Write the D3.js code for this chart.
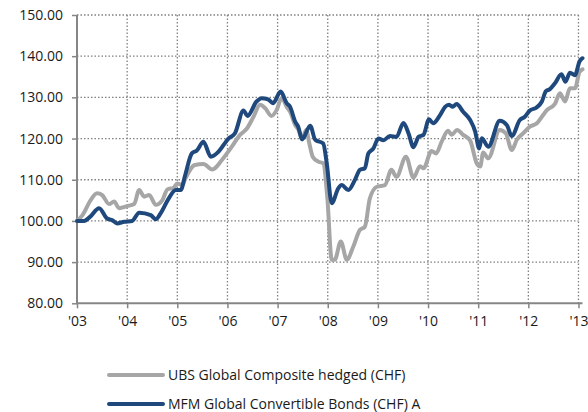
<!DOCTYPE html>
<html>
<head>
<meta charset="utf-8">
<script src="https://cdn.jsdelivr.net/npm/d3@7"></script>
<style>
  body { margin: 0; background: #fff; }
  svg text { font-family: "Open Sans", "Noto Sans", sans-serif; fill: #1a1a1a; }
</style>
</head>
<body>
<div id="chart"></div>
<script>
// --- data (decimal year, index value) ---
const ubsSeries = [
  [2003.00, 100.0], [2003.11, 101.4], [2003.27, 105.0], [2003.40, 106.7], [2003.50, 106.3],
  [2003.64, 104.1], [2003.74, 104.7], [2003.84, 103.1], [2004.00, 103.6], [2004.14, 104.1],
  [2004.24, 107.5], [2004.34, 105.9], [2004.44, 106.3], [2004.57, 103.9], [2004.70, 105.0],
  [2004.80, 107.6], [2004.93, 108.1], [2005.00, 109.1], [2005.10, 108.7], [2005.15, 110.0],
  [2005.35, 113.6], [2005.52, 113.8], [2005.70, 112.5], [2005.89, 114.8], [2006.08, 117.9],
  [2006.25, 120.9], [2006.38, 122.3], [2006.52, 125.3], [2006.65, 128.2], [2006.75, 127.4],
  [2006.88, 125.5], [2006.98, 126.9], [2007.08, 129.8], [2007.19, 127.5], [2007.25, 126.5],
  [2007.35, 123.3], [2007.41, 122.3], [2007.49, 120.0], [2007.57, 122.1], [2007.63, 119.0],
  [2007.70, 115.6], [2007.81, 114.4], [2007.91, 114.0], [2007.99, 105.9], [2008.08, 90.6],
  [2008.14, 90.6], [2008.26, 95.0], [2008.38, 90.6], [2008.51, 93.8], [2008.64, 97.8],
  [2008.74, 98.6], [2008.84, 105.5], [2008.98, 108.3], [2009.14, 108.7], [2009.27, 112.4],
  [2009.37, 110.7], [2009.56, 115.6], [2009.71, 110.5], [2009.84, 113.3], [2009.91, 112.8],
  [2010.07, 117.0], [2010.16, 116.4], [2010.27, 119.2], [2010.40, 121.9], [2010.47, 120.9],
  [2010.58, 122.1], [2010.70, 120.9], [2010.84, 119.5], [2010.97, 114.0], [2011.04, 113.2],
  [2011.10, 116.6], [2011.20, 115.2], [2011.43, 122.1], [2011.55, 121.3], [2011.67, 117.2],
  [2011.77, 119.7], [2011.90, 121.3], [2012.03, 122.9], [2012.17, 123.7], [2012.27, 125.3],
  [2012.37, 126.9], [2012.53, 128.4], [2012.63, 131.0], [2012.73, 129.0], [2012.83, 132.2],
  [2012.93, 132.2], [2013.02, 136.2], [2013.08, 136.8]
];

const mfmSeries = [
  [2003.00, 100.0], [2003.14, 100.0], [2003.26, 101.0], [2003.44, 103.1], [2003.60, 100.6],
  [2003.70, 100.2], [2003.80, 99.4], [2003.94, 99.8], [2004.10, 100.0], [2004.24, 102.0],
  [2004.47, 101.4], [2004.57, 100.4], [2004.67, 101.9], [2004.83, 105.5], [2004.97, 107.5],
  [2005.07, 107.5], [2005.15, 110.8], [2005.29, 116.4], [2005.39, 117.1], [2005.52, 119.2],
  [2005.67, 115.6], [2005.82, 116.8], [2006.02, 120.0], [2006.15, 121.3], [2006.32, 126.8],
  [2006.40, 125.5], [2006.58, 129.0], [2006.68, 129.8], [2006.81, 129.5], [2006.91, 128.6],
  [2007.06, 131.4], [2007.18, 128.6], [2007.25, 127.7], [2007.35, 124.1], [2007.41, 122.9],
  [2007.49, 119.8], [2007.65, 123.1], [2007.75, 119.7], [2007.91, 118.8], [2007.98, 114.0],
  [2008.08, 104.3], [2008.21, 107.9], [2008.28, 108.7], [2008.41, 107.5], [2008.54, 109.9],
  [2008.64, 112.4], [2008.74, 112.8], [2008.81, 116.4], [2008.91, 117.6], [2009.01, 120.0],
  [2009.11, 119.6], [2009.24, 120.6], [2009.37, 120.4], [2009.51, 123.8], [2009.61, 121.3],
  [2009.71, 117.9], [2009.81, 120.4], [2009.91, 120.9], [2010.02, 124.7], [2010.10, 123.7],
  [2010.24, 125.7], [2010.34, 127.7], [2010.42, 128.2], [2010.49, 127.7], [2010.57, 128.4],
  [2010.70, 126.5], [2010.84, 124.5], [2010.94, 121.7], [2011.02, 117.6], [2011.07, 120.1],
  [2011.20, 118.0], [2011.43, 124.3], [2011.57, 123.3], [2011.67, 120.6], [2011.83, 124.5],
  [2011.93, 125.3], [2012.03, 126.8], [2012.17, 127.6], [2012.27, 129.0], [2012.35, 131.5],
  [2012.43, 132.0], [2012.53, 133.4], [2012.66, 135.6], [2012.74, 133.8], [2012.83, 136.0],
  [2012.93, 135.4], [2013.02, 138.7], [2013.08, 139.5]
];

const yearTicks = [2003, 2004, 2005, 2006, 2007, 2008, 2009, 2010, 2011, 2012, 2013];
const yearLabels = ["'03", "'04", "'05", "'06", "'07", "'08", "'09", "'10", "'11", "'12", "'13"];
const valueTicks = [80, 90, 100, 110, 120, 130, 140, 150];

const series = [
  { name: "UBS Global Composite hedged (CHF)", values: ubsSeries, color: "#a6a6a6" },
  { name: "MFM Global Convertible Bonds (CHF) A", values: mfmSeries, color: "#1f497d" }
];

// --- sizing ---
const W = 588, H = 412;
const plot = { left: 77, right: 582.5, top: 15, bottom: 303.3 };

const svg = d3.select("#chart").append("svg")
  .attr("width", W).attr("height", H);

const x = d3.scaleLinear().domain([2003, 2013.08]).range([plot.left, plot.right]);
const y = d3.scaleLinear().domain([80, 150]).range([plot.bottom, plot.top]);

// grid (dotted)
svg.append("g").selectAll("line.h")
  .data(valueTicks.filter(v => v > 80))
  .enter().append("line")
  .attr("x1", plot.left).attr("x2", x(2013))
  .attr("y1", d => y(d)).attr("y2", d => y(d))
  .attr("stroke", "#808080").attr("stroke-width", 1.3)
  .attr("stroke-dasharray", "1.5,2");

svg.append("g").selectAll("line.v")
  .data(yearTicks.slice(1))
  .enter().append("line")
  .attr("x1", d => x(d)).attr("x2", d => x(d))
  .attr("y1", plot.top).attr("y2", plot.bottom)
  .attr("stroke", "#808080").attr("stroke-width", 1.3)
  .attr("stroke-dasharray", "1.5,2");

// axes
const yAxis = svg.append("g")
  .attr("transform", `translate(${plot.left},0)`)
  .call(d3.axisLeft(y).tickValues(valueTicks).tickFormat(d3.format(".2f")).tickSize(5).tickPadding(9));
const xAxis = svg.append("g")
  .attr("transform", `translate(0,${plot.bottom})`)
  .call(d3.axisBottom(x).tickValues(yearTicks).tickFormat((d, i) => yearLabels[i]).tickSize(5).tickPadding(8));

[yAxis, xAxis].forEach(a => {
  a.select(".domain").attr("stroke", "#868686").attr("stroke-width", 2);
  a.selectAll(".tick line").attr("stroke", "#868686").attr("stroke-width", 1.5);
  a.selectAll("text").style("font-family", "'Open Sans', sans-serif")
    .style("font-size", "14px").attr("fill", "#1a1a1a");
});
xAxis.select(".domain").attr("d", `M${plot.left},0H${plot.right}`);
yAxis.select(".domain").attr("d", `M0,${plot.top}V${plot.bottom}`);

// lines
const line = d3.line()
  .x(d => x(d[0]))
  .y(d => y(d[1]))
  .curve(d3.curveMonotoneX);

svg.selectAll("path.series")
  .data(series)
  .enter().append("path")
  .attr("class", "series")
  .attr("fill", "none")
  .attr("stroke", d => d.color)
  .attr("stroke-width", 4)
  .attr("stroke-linejoin", "round")
  .attr("stroke-linecap", "round")
  .attr("d", d => line(d.values));

// legend
const legend = svg.append("g").selectAll("g")
  .data(series)
  .enter().append("g")
  .attr("transform", (d, i) => `translate(109,${375 + i * 29})`);

legend.append("line")
  .attr("x1", 0).attr("x2", 54)
  .attr("stroke", d => d.color)
  .attr("stroke-width", 4)
  .attr("stroke-linecap", "round");

legend.append("text")
  .attr("x", 59).attr("y", 5)
  .style("font-size", "14px")
  .text(d => d.name);
</script>
</body>
</html>
